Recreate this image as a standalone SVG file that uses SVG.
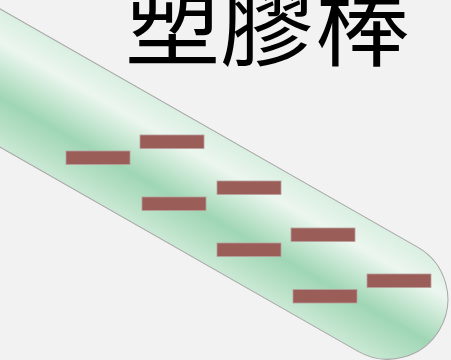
<svg xmlns="http://www.w3.org/2000/svg" width="451" height="360" viewBox="0 0 451 360">
  <defs>
    <!-- shading across the rod, from upper edge to lower edge -->
    <linearGradient id="rodShade" gradientUnits="userSpaceOnUse" x1="0" y1="-60" x2="0" y2="60">
      <stop offset="0" stop-color="#d9efe1"/>
      <stop offset="0.24" stop-color="#ecf6ef"/>
      <stop offset="0.45" stop-color="#c4e6d0"/>
      <stop offset="0.64" stop-color="#9fd6b4"/>
      <stop offset="0.8" stop-color="#b2dec2"/>
      <stop offset="1" stop-color="#cbe9d5"/>
    </linearGradient>
    <style>
      .charge { fill: #9a5d58; stroke: #b8a09c; stroke-width: 0.8; }
      .label { font-family: "Noto Sans CJK TC", "Noto Sans CJK SC", sans-serif; font-size: 95px; fill: #000; }
    </style>
  </defs>

  <rect width="451" height="360" fill="#f2f2f2"/>

  <!-- plastic rod -->
  <g id="rod" transform="translate(0,78) rotate(29.7)">
    <path d="M -120,-60 H 446.5 A 60 60 0 0 1 446.5 60 H -120 Z" fill="url(#rodShade)" stroke="#a6a6a6" stroke-width="1"/>
  </g>

  <!-- negative charges on the rod -->
  <g id="charges">
    <rect class="charge" x="66" y="151" width="64" height="13.5"/>
    <rect class="charge" x="140" y="135" width="64" height="13.5"/>
    <rect class="charge" x="142" y="197" width="64" height="13.5"/>
    <rect class="charge" x="217" y="181" width="64" height="13.5"/>
    <rect class="charge" x="217" y="243" width="64" height="13.5"/>
    <rect class="charge" x="291" y="228" width="64" height="13.5"/>
    <rect class="charge" x="293" y="289.5" width="64" height="13.5"/>
    <rect class="charge" x="367" y="274" width="64" height="13.5"/>
  </g>

  <g id="title">
    <text class="label" x="125" y="59">塑膠棒</text>
  </g>
</svg>
